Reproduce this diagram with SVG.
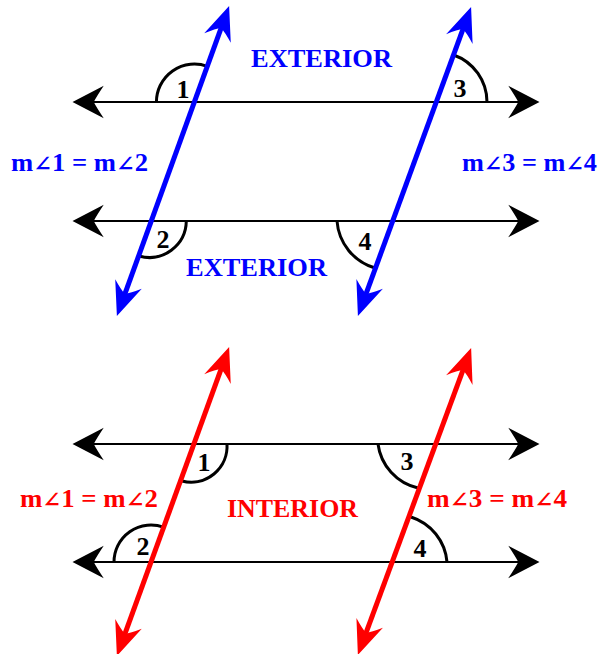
<svg xmlns="http://www.w3.org/2000/svg" width="604" height="654" viewBox="0 0 604 654">
<style>
.par{stroke:#000;stroke-width:2;fill:none;marker-start:url(#ak);marker-end:url(#ak)}
.tb{stroke:#0000FF;stroke-width:5;fill:none;marker-start:url(#ab);marker-end:url(#ab)}
.tr{stroke:#FF0000;stroke-width:5;fill:none;marker-start:url(#ar);marker-end:url(#ar)}
.arc{stroke:#000;stroke-width:3;fill:none}
.num{font-family:"Liberation Serif","DejaVu Serif",serif;font-weight:bold;font-size:26px;fill:#000;text-anchor:middle}
.lbl{font-family:"Liberation Serif","DejaVu Serif",serif;font-weight:bold;font-size:25px}
.ang{font-size:21px}
.big{font-family:"Liberation Serif","DejaVu Serif",serif;font-weight:bold;font-size:26px}
.blue{fill:#0000FF}
.red{fill:#FF0000}
</style>
<defs>
<marker id="ak" markerUnits="userSpaceOnUse" orient="auto-start-reverse" refX="-10" refY="0" markerWidth="40" markerHeight="40" viewBox="-30 -15 32 30" overflow="visible">
<path d="M0,0 L-25,-13 Q-19,-4 -17,0 Q-19,4 -25,13 Z" fill="#000"/>
</marker>
<marker id="ab" markerUnits="userSpaceOnUse" orient="auto-start-reverse" refX="-18" refY="0" markerWidth="40" markerHeight="40" viewBox="-32 -15 34 30" overflow="visible">
<path d="M0,0 L-29,-12 Q-22,-4 -20,0 Q-22,4 -29,12 Z" fill="#0000FF"/>
</marker>
<marker id="ar" markerUnits="userSpaceOnUse" orient="auto-start-reverse" refX="-18" refY="0" markerWidth="40" markerHeight="40" viewBox="-32 -15 34 30" overflow="visible">
<path d="M0,0 L-29,-12 Q-22,-4 -20,0 Q-22,4 -29,12 Z" fill="#FF0000"/>
</marker>
</defs>

<g id="connectors">
<line class="par" x1="527" y1="102" x2="85" y2="102"/>
<line class="par" x1="527" y1="221" x2="85" y2="221"/>
<line class="par" x1="527" y1="444" x2="85" y2="444"/>
<line class="par" x1="527" y1="562" x2="85" y2="562"/>
</g>

<g id="exterior-arcs">
<path class="arc" d="M156.4,102 A38,38 0 0 1 207.3,66.3"/>
<path class="arc" d="M186.3,221 A37,37 0 0 1 139,256"/>
<path class="arc" d="M487,102 A50,50 0 0 0 453.7,55"/>
<path class="arc" d="M337,221 A53,53 0 0 0 375,268"/>
</g>
<g id="interior-arcs">
<path class="arc" d="M227,444 A36,36 0 0 1 182,481"/>
<path class="arc" d="M114,562 A37,37 0 0 1 163.6,527.2"/>
<path class="arc" d="M378,444 A52,52 0 0 0 418,488"/>
<path class="arc" d="M447,562 A52,52 0 0 0 411,517"/>
</g>

<g id="transversals">
<line class="tb" x1="124.1" y1="296.1" x2="221.9" y2="25.9"/>
<line class="tb" x1="365.2" y1="296.1" x2="463.8" y2="26.9"/>
<line class="tr" x1="124.1" y1="636.1" x2="221.9" y2="366.9"/>
<line class="tr" x1="365.2" y1="635.1" x2="463.8" y2="367.9"/>
</g>

<g id="exterior-labels">
<text class="num" x="183" y="98">1</text>
<text class="num" x="163" y="248">2</text>
<text class="num" x="460" y="97">3</text>
<text class="num" x="365" y="250">4</text>
<text class="big blue" x="251" y="67" textLength="141" lengthAdjust="spacingAndGlyphs">EXTERIOR</text>
<text class="big blue" x="186" y="276" textLength="141" lengthAdjust="spacingAndGlyphs">EXTERIOR</text>
<text class="lbl blue" x="11" y="171" textLength="137" lengthAdjust="spacingAndGlyphs">m<tspan class="ang">∠</tspan>1 = m<tspan class="ang">∠</tspan>2</text>
<text class="lbl blue" x="462" y="171" textLength="135" lengthAdjust="spacingAndGlyphs">m<tspan class="ang">∠</tspan>3 = m<tspan class="ang">∠</tspan>4</text>
</g>

<g id="interior-labels">
<text class="num" x="204" y="471">1</text>
<text class="num" x="143" y="555">2</text>
<text class="num" x="407" y="470">3</text>
<text class="num" x="420" y="557">4</text>
<text class="big red" x="227" y="517" textLength="131" lengthAdjust="spacingAndGlyphs">INTERIOR</text>
<text class="lbl red" x="20" y="507" textLength="138" lengthAdjust="spacingAndGlyphs">m<tspan class="ang">∠</tspan>1 = m<tspan class="ang">∠</tspan>2</text>
<text class="lbl red" x="427" y="507" textLength="140" lengthAdjust="spacingAndGlyphs">m<tspan class="ang">∠</tspan>3 = m<tspan class="ang">∠</tspan>4</text>
</g>
</svg>
